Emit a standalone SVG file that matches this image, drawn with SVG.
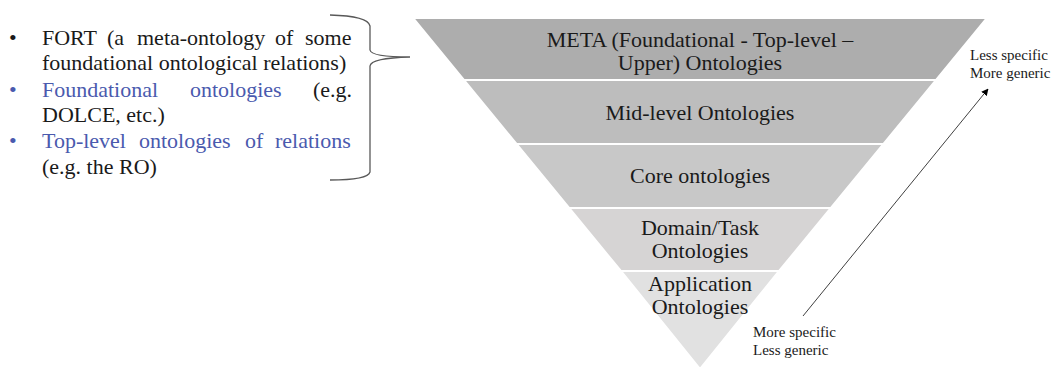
<svg xmlns="http://www.w3.org/2000/svg" width="1052" height="367" viewBox="0 0 1052 367">
<defs>
<style>
.t{font-family:"Liberation Serif","Times New Roman",serif;fill:#1a1a1a}
.b{font-size:22px}
.bl{fill:#4a5aae}
.band{stroke:#ffffff;stroke-width:2}
.lab{font-size:22px;text-anchor:middle}
.sm{font-size:15px}
</style>
<marker id="ah" viewBox="0 0 10 10" refX="9" refY="5" markerWidth="7" markerHeight="7" orient="auto" markerUnits="userSpaceOnUse">
<path d="M0,0 L10,5 L0,10 z" fill="#000"/>
</marker>
</defs>
<rect width="1052" height="367" fill="#ffffff"/>
<g id="bullets">
<text class="t b" x="9" y="45">•</text>
<text class="t b"><tspan x="42" y="45">FORT</tspan><tspan x="107" y="45">(a</tspan><tspan x="137" y="45">meta-ontology</tspan><tspan x="275" y="45">of</tspan><tspan x="305" y="45">some</tspan></text>
<text class="t b" x="42" y="70">foundational ontological relations)</text>
<text class="t b bl" x="9" y="97">•</text>
<text class="t b"><tspan class="bl" x="42" y="97">Foundational</tspan><tspan class="bl" x="190" y="97">ontologies</tspan><tspan x="313" y="97">(e.g.</tspan></text>
<text class="t b" x="42" y="122">DOLCE, etc.)</text>
<text class="t b bl" x="9" y="148">•</text>
<text class="t b bl"><tspan x="42" y="148">Top-level</tspan><tspan x="139" y="148">ontologies</tspan><tspan x="245" y="148">of</tspan><tspan x="275" y="148">relations</tspan></text>
<text class="t b" x="42" y="174">(e.g. the RO)</text>
</g>
<g id="brace">
<path d="M330,15 Q368,16 370,26 L370,50 Q371,57 410,57 Q371,58 370,66 L370,172 Q368,180 330,180" fill="none" stroke="#595959" stroke-width="1.3"/>
</g>
<g id="band-meta">
<path class="band" d="M413,18 L987,18 L936.1,80 L463.9,80 Z" fill="#adadad"/>
<text class="t lab" x="700" y="47">META (Foundational - Top-level –</text>
<text class="t lab" x="700" y="70">Upper) Ontologies</text>
</g>
<g id="band-mid">
<path class="band" d="M463.9,80 L936.1,80 L883.5,144 L516.5,144 Z" fill="#bdbdbd"/>
<text class="t lab" x="700" y="120">Mid-level Ontologies</text>
</g>
<g id="band-core">
<path class="band" d="M516.5,144 L883.5,144 L830.9,208 L569.1,208 Z" fill="#c8c8c8"/>
<text class="t lab" x="700" y="183">Core ontologies</text>
</g>
<g id="band-domain">
<path class="band" d="M569.1,208 L830.9,208 L779.1,271 L620.9,271 Z" fill="#d6d4d4"/>
<text class="t lab" x="700" y="235">Domain/Task</text>
<text class="t lab" x="700" y="258">Ontologies</text>
</g>
<g id="band-app">
<path class="band" d="M620.9,271 L779.1,271 L700,369 Z" fill="#e1e1e1"/>
<text class="t lab" x="700" y="291">Application</text>
<text class="t lab" x="700" y="314">Ontologies</text>
</g>
<g id="connectors">
<line x1="803" y1="316" x2="988" y2="89" stroke="#404040" stroke-width="1" marker-end="url(#ah)"/>
</g>
<g id="label-top">
<text class="t sm" x="970" y="60">Less specific</text>
<text class="t sm" x="970" y="78">More generic</text>
</g>
<g id="label-bottom">
<text class="t sm" x="753" y="337">More specific</text>
<text class="t sm" x="753" y="355">Less generic</text>
</g>
</svg>
